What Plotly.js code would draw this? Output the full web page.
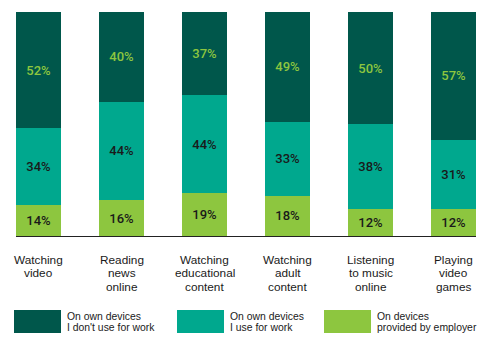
<!DOCTYPE html>
<html>
<head>
<meta charset="utf-8">
<script src="https://cdn.plot.ly/plotly-3.0.1.min.js"></script>
<style>html,body{margin:0;padding:0;background:#fff;}#chart{width:496px;height:360px;}</style>
</head>
<body>
<div id="chart"></div>
<script>
var categories = ["Watching<br>video", "Reading<br>news<br>online", "Watching<br>educational<br>content", "Watching<br>adult<br>content", "Listening<br>to music<br>online", "Playing<br>video<br>games"];
var employerDevices = [14, 16, 19, 18, 12, 12];
var ownWorkDevices = [34, 44, 44, 33, 38, 31];
var ownNonWorkDevices = [52, 40, 37, 49, 50, 57];
var seriesNames = ["On own devices<br>I don't use for work", "On own devices<br>I use for work", "On devices<br>provided by employer"];

var C_DARK = '#00574B', C_TEAL = '#00A88E', C_LIGHT = '#8DC63F';
var FONT = 'Liberation Sans, Arial, sans-serif';
var NUMFONT = 'Roboto, Liberation Sans, Arial, sans-serif';

// plot area geometry in pixels
var L = 16, R = 476, T = 12, B = 236;
function px2x(px){ return (px - L) / (R - L); }
function py2y(py){ return (B - py) / (B - T); }

var xs = categories.map(function(c, i){ return i; });

function bar(vals, color, txtColor, name){
  return {
    type: 'bar', x: xs, y: vals, name: name,
    marker: {color: color, line: {width: 0}},
    text: vals.map(function(v){ return v + '%'; }),
    textposition: 'inside', insidetextanchor: 'middle', textangle: 0,
    constraintext: 'none',
    textfont: {family: NUMFONT, size: 13, weight: 500, color: txtColor},
    hoverinfo: 'none'
  };
}

var data = [
  bar(employerDevices, C_LIGHT, '#1a1a1a', seriesNames[2]),
  bar(ownWorkDevices, C_TEAL, '#1a1a1a', seriesNames[1]),
  bar(ownNonWorkDevices, C_DARK, C_LIGHT, seriesNames[0])
];

var annotations = [];
categories.forEach(function(c, i){
  c.split('<br>').forEach(function(line, j){
    annotations.push({
      x: i, xref: 'x', y: py2y(260 + j * 13.4), yref: 'paper',
      text: line, showarrow: false, xanchor: 'center', yanchor: 'middle',
      font: {family: FONT, size: 11.8, color: '#1a1a1a'}
    });
  });
});

var shapes = [];
var legendColors = [C_DARK, C_TEAL, C_LIGHT];
var swatchX = [14, 177, 324];
seriesNames.forEach(function(n, k){
  var sx = swatchX[k];
  shapes.push({type: 'rect', xref: 'paper', yref: 'paper',
    x0: px2x(sx), x1: px2x(sx + 47), y0: py2y(310), y1: py2y(333),
    fillcolor: legendColors[k], line: {width: 0}});
  n.split('<br>').forEach(function(line, j){
    annotations.push({
      x: px2x(sx + 51), xref: 'paper', y: py2y(316 + j * 11.5), yref: 'paper',
      text: line, showarrow: false, xanchor: 'left', yanchor: 'middle',
      font: {family: FONT, size: 10.4, color: '#1a1a1a'}
    });
  });
});

var layout = {
  width: 496, height: 360,
  margin: {l: L, r: 496 - R, t: T, b: 360 - B, pad: 0},
  paper_bgcolor: '#fff', plot_bgcolor: '#fff',
  barmode: 'stack', bargap: 0.458,
  showlegend: false,
  xaxis: {range: [-0.271, 5.271], showticklabels: false, ticks: '', showgrid: false, zeroline: false,
    showline: true, linecolor: '#222', linewidth: 1.2, fixedrange: true},
  yaxis: {range: [0, 100], visible: false, fixedrange: true},
  annotations: annotations,
  shapes: shapes
};

Plotly.newPlot('chart', data, layout, {displayModeBar: false, staticPlot: true});
</script>
</body>
</html>
